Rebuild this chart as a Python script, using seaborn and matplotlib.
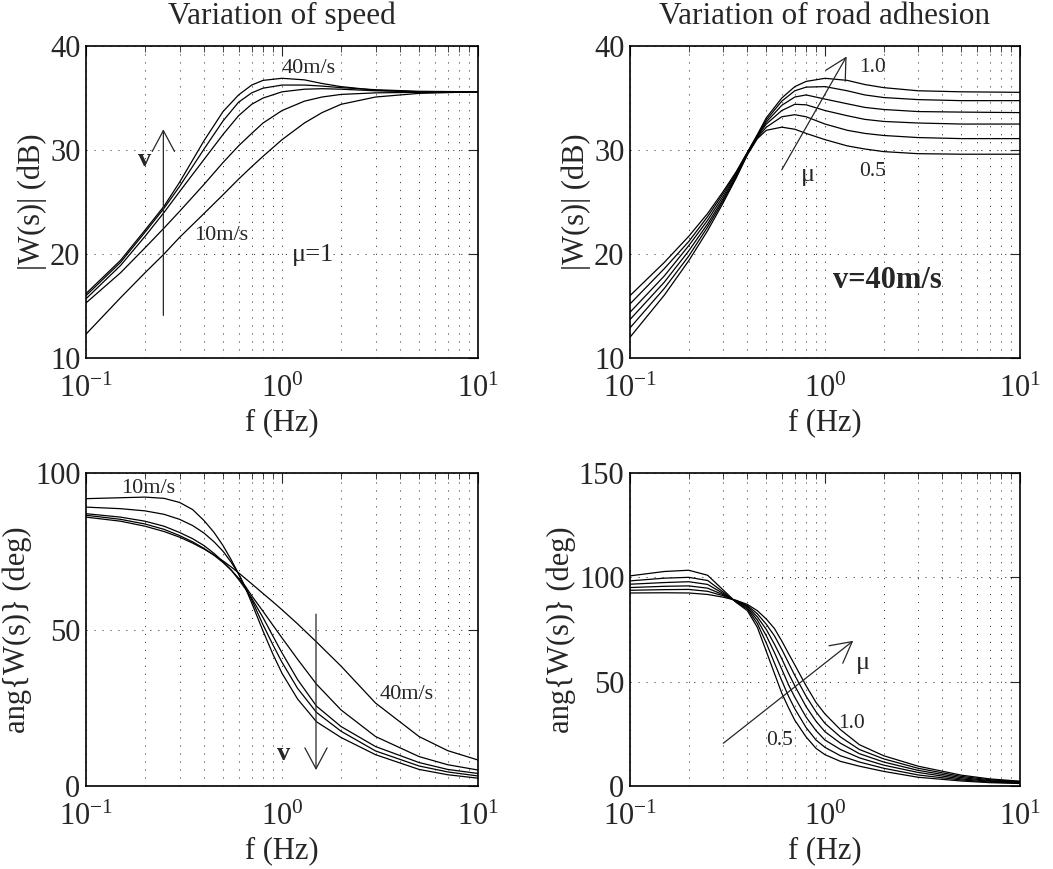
import matplotlib
matplotlib.use("Agg")
import numpy as np
import pandas as pd
import matplotlib.pyplot as plt
import seaborn as sns

# ---- data (frequency in Hz) ----
# top left: |W(s)| in dB for five speeds
freq_speed_mag = [0.1, 0.15, 0.2, 0.25, 0.3, 0.4, 0.5, 0.6, 0.7, 0.8, 1.0, 1.3, 1.6, 2, 3, 5, 10]
mag_speed = [
    [12.3, 15.8, 18.2, 20.0, 21.6, 23.9, 25.7, 27.2, 28.4, 29.4, 31.0, 32.6, 33.6, 34.4, 35.1, 35.45, 35.6],
    [15.3, 18.2, 20.6, 22.5, 24.1, 26.7, 28.8, 30.4, 31.6, 32.6, 33.8, 34.7, 35.1, 35.35, 35.5, 35.55, 35.6],
    [15.7, 18.9, 21.7, 24.0, 26.0, 29.1, 31.5, 33.3, 34.4, 35.0, 35.6, 35.85, 35.9, 35.85, 35.7, 35.6, 35.6],
    [16.0, 19.2, 22.1, 24.4, 26.5, 30.1, 32.8, 34.6, 35.5, 35.95, 36.25, 36.25, 36.15, 36.0, 35.8, 35.65, 35.6],
    [16.2, 19.4, 22.3, 24.6, 26.9, 30.9, 33.7, 35.3, 36.25, 36.7, 36.9, 36.75, 36.4, 36.1, 35.75, 35.6, 35.6],
]
speed_keys = ["10", "17.5", "25", "32.5", "40"]

# top right: |W(s)| in dB for six road adhesions (mu = 1.0 ... 0.5)
freq_mu_mag = [0.1, 0.15, 0.2, 0.25, 0.3, 0.35, 0.4, 0.45, 0.5, 0.6, 0.7, 0.8, 1.0, 1.3, 1.6, 2, 3, 5, 10]
mag_mu = [
    [16.0, 19.2, 21.7, 23.9, 26.0, 27.9, 29.8, 31.5, 33.1, 35.0, 36.1, 36.6, 36.9, 36.7, 36.3, 36.0, 35.7, 35.6, 35.55],
    [15.2, 18.6, 21.2, 23.6, 25.8, 27.8, 29.75, 31.4, 32.9, 34.7, 35.7, 36.05, 36.1, 35.7, 35.3, 35.05, 34.85, 34.75, 34.75],
    [14.4, 17.9, 20.8, 23.25, 25.55, 27.65, 29.7, 31.35, 32.7, 34.3, 35.1, 35.3, 34.9, 34.45, 34.1, 33.9, 33.7, 33.65, 33.6],
    [13.7, 17.3, 20.3, 22.9, 25.3, 27.5, 29.65, 31.3, 32.5, 33.8, 34.4, 34.35, 33.8, 33.3, 32.95, 32.75, 32.6, 32.5, 32.5],
    [12.9, 16.7, 19.8, 22.6, 25.1, 27.4, 29.6, 31.2, 32.2, 33.2, 33.4, 33.2, 32.5, 31.9, 31.6, 31.4, 31.2, 31.1, 31.1],
    [12.0, 16.05, 19.35, 22.25, 24.9, 27.3, 29.55, 31.1, 31.9, 32.2, 32.0, 31.6, 31.0, 30.4, 30.1, 29.85, 29.65, 29.6, 29.6],
]
mu_keys = ["1.0", "0.9", "0.8", "0.7", "0.6", "0.5"]

# bottom left: phase in deg for five speeds
freq_speed_ang = [0.1, 0.15, 0.2, 0.25, 0.3, 0.35, 0.4, 0.45, 0.5, 0.55, 0.6, 0.65, 0.7, 0.8, 0.9, 1.0, 1.2, 1.5, 2, 3, 5, 7, 10]
ang_speed = [
    [91.8, 92.1, 92.3, 91.9, 90.6, 88.3, 84.8, 81.0, 76.8, 72.3, 67.8, 63.3, 58.5, 49.5, 42.0, 36.0, 27.8, 20.5, 15.5, 10.0, 5.3, 3.6, 2.5],
    [89.1, 88.6, 87.9, 86.8, 85.2, 83.2, 80.8, 78.0, 75.0, 71.5, 67.8, 63.5, 59.5, 51.5, 45.0, 39.5, 31.2, 23.5, 17.5, 11.2, 6.4, 4.5, 3.2],
    [87.0, 85.9, 84.6, 83.0, 81.0, 79.0, 76.8, 74.3, 71.7, 69.0, 66.0, 63.0, 60.0, 53.8, 47.8, 42.5, 34.0, 25.5, 19.0, 12.6, 7.5, 5.3, 4.0],
    [86.5, 85.2, 83.7, 82.0, 80.0, 78.0, 75.9, 73.7, 71.4, 69.0, 66.4, 63.8, 60.8, 55.8, 51.3, 47.3, 40.5, 32.5, 24.3, 15.8, 9.4, 6.8, 5.1],
    [85.9, 84.6, 83.0, 81.3, 79.5, 77.6, 75.7, 73.8, 71.9, 70.0, 68.1, 66.3, 64.6, 61.5, 58.8, 56.3, 51.8, 46.0, 38.3, 26.5, 15.8, 11.3, 8.3],
]

# bottom right: phase in deg for six road adhesions (mu = 1.0 ... 0.5)
freq_mu_ang = [0.1, 0.15, 0.2, 0.25, 0.3, 0.35, 0.4, 0.45, 0.5, 0.55, 0.6, 0.65, 0.7, 0.8, 0.9, 1.0, 1.2, 1.5, 2, 3, 5, 7, 10]
ang_mu = [
    [92.5, 92.6, 92.5, 91.8, 90.5, 89.0, 87.0, 84.0, 80.0, 75.5, 69.5, 63.5, 58.0, 48.0, 40.0, 34.5, 27.0, 19.8, 14.5, 9.5, 5.2, 3.4, 2.3],
    [93.8, 94.1, 94.2, 93.3, 91.2, 88.8, 86.5, 82.5, 77.5, 72.0, 65.5, 59.0, 53.0, 43.0, 35.5, 30.0, 23.5, 17.5, 13.0, 8.5, 4.6, 3.0, 2.1],
    [95.1, 95.7, 95.9, 94.8, 91.7, 88.6, 86.0, 81.0, 75.0, 68.0, 61.0, 54.0, 48.0, 38.0, 31.0, 26.0, 20.5, 15.5, 11.5, 7.5, 4.0, 2.6, 1.8],
    [96.7, 97.5, 97.9, 96.6, 92.3, 88.4, 85.4, 79.5, 72.0, 64.0, 56.0, 48.5, 42.5, 33.0, 26.5, 22.0, 17.5, 13.5, 10.0, 6.5, 3.4, 2.3, 1.6],
    [98.3, 99.6, 100.0, 98.5, 93.0, 88.2, 84.8, 77.8, 68.5, 59.0, 50.5, 43.0, 37.0, 28.0, 22.0, 18.5, 14.5, 11.5, 8.5, 5.3, 2.9, 1.9, 1.4],
    [100.7, 102.8, 103.4, 101.0, 94.0, 88.0, 84.0, 76.0, 64.5, 54.0, 44.5, 37.5, 31.5, 23.5, 18.0, 15.0, 11.8, 9.5, 7.0, 4.2, 2.4, 1.6, 1.2],
]

sns.set_style("white")
plt.rcParams["font.family"] = ["Liberation Serif", "DejaVu Serif"]
plt.rcParams["mathtext.fontset"] = "stix"

FS = 22
SERIF = ["Liberation Serif", "DejaVu Serif"]
grid_ls = (0, (1.2, 7))


def draw_panel(ax, freq, curves, keys, ylim, yticks, ylabel):
    rows = []
    for key, vals in zip(keys, curves):
        for f, v in zip(freq, vals):
            rows.append((f, v, key))
    df = pd.DataFrame(rows, columns=["f", "val", "curve"])
    sns.lineplot(data=df, x="f", y="val", hue="curve", palette=["black"] * len(keys),
                 estimator=None, legend=False, linewidth=0.9, ax=ax)
    ax.set_xscale("log")
    ax.set_xlim(0.1, 10)
    ax.set_ylim(*ylim)
    ax.set_yticks(yticks)
    ax.set_axisbelow(True)
    ax.grid(True, which="major", axis="both", color="0.25", linestyle=grid_ls, linewidth=0.7)
    ax.grid(True, which="minor", axis="x", color="0.25", linestyle=grid_ls, linewidth=0.7)
    ax.tick_params(which="both", direction="in", top=True, right=True, labelsize=FS)
    ax.tick_params(axis="x", which="both", pad=12)
    ax.tick_params(axis="y", which="both", pad=4)
    ax.tick_params(which="major", length=7, width=0.8)
    ax.tick_params(which="minor", length=4, width=0.6)
    for sp in ax.spines.values():
        sp.set_linewidth(1.2)
        sp.set_color("black")
    ax.set_xlabel("f (Hz)", fontsize=FS, labelpad=3)
    ax.set_ylabel(ylabel, fontsize=FS, labelpad=2)


def arrow(ax, start, end):
    ax.annotate("", xy=end, xytext=start,
                arrowprops=dict(arrowstyle="->,head_length=1.5,head_width=0.8",
                                color="0.15", lw=0.9, mutation_scale=10,
                                shrinkA=0, shrinkB=0))


fig = plt.figure(figsize=(10.53, 8.69), dpi=100)
ax_tl = fig.add_axes([0.0817, 0.588, 0.3723, 0.359])
ax_tr = fig.add_axes([0.5983, 0.588, 0.3704, 0.359])
ax_bl = fig.add_axes([0.0817, 0.0955, 0.3723, 0.3602])
ax_br = fig.add_axes([0.5983, 0.0955, 0.3704, 0.3602])

draw_panel(ax_tl, freq_speed_mag, mag_speed, speed_keys, (10, 40), [10, 20, 30, 40], "|W(s)| (dB)")
draw_panel(ax_tr, freq_mu_mag, mag_mu, mu_keys, (10, 40), [10, 20, 30, 40], "|W(s)| (dB)")
draw_panel(ax_bl, freq_speed_ang, ang_speed, speed_keys, (0, 100), [0, 50, 100], "ang{W(s)} (deg)")
draw_panel(ax_br, freq_mu_ang, ang_mu, mu_keys, (0, 150), [0, 50, 100, 150], "ang{W(s)} (deg)")

ax_tl.set_title("Variation of speed", fontsize=22.5, family=SERIF, pad=16)
ax_tr.set_title("Variation of road adhesion", fontsize=22.5, family=SERIF, pad=16)

# top left annotations
ax_tl.text(1.37, 37.85, "40m/s", fontsize=16, ha="center", va="center")
ax_tl.text(0.489, 21.8, "10m/s", fontsize=16, ha="center", va="center")
ax_tl.text(1.44, 19.9, "\u03bc=1", fontsize=19, ha="center", va="center")
ax_tl.text(0.2, 29.05, "v", fontsize=19, fontweight="bold", ha="center", va="center")
arrow(ax_tl, (0.248, 14.1), (0.248, 32.0))

# top right annotations
ax_tr.text(1.76, 37.9, "1.0", fontsize=15.5, ha="center", va="center")
ax_tr.text(1.75, 27.9, "0.5", fontsize=15.5, ha="center", va="center")
ax_tr.text(0.82, 27.6, "\u03bc", fontsize=19, ha="center", va="center")
ax_tr.text(2.08, 17.5, "v=40m/s", fontsize=FS, fontweight="bold", ha="center", va="center")
arrow(ax_tr, (0.60, 28.1), (1.29, 39.0))

# bottom left annotations
ax_bl.text(0.207, 95.1, "10m/s", fontsize=16, ha="center", va="center")
ax_bl.text(4.3, 29.1, "40m/s", fontsize=16, ha="center", va="center")
ax_bl.text(1.02, 10.4, "v", fontsize=19, fontweight="bold", ha="center", va="center")
arrow(ax_bl, (1.49, 54.9), (1.49, 5.1))

# bottom right annotations
ax_br.text(1.57, 58.8, "\u03bc", fontsize=19, ha="center", va="center")
ax_br.text(1.37, 30.0, "1.0", fontsize=15.5, ha="center", va="center")
ax_br.text(0.588, 22.0, "0.5", fontsize=15.5, ha="center", va="center")
arrow(ax_br, (0.301, 20.5), (1.396, 69.6))

fig.savefig("out.png", dpi=100, facecolor="white")
